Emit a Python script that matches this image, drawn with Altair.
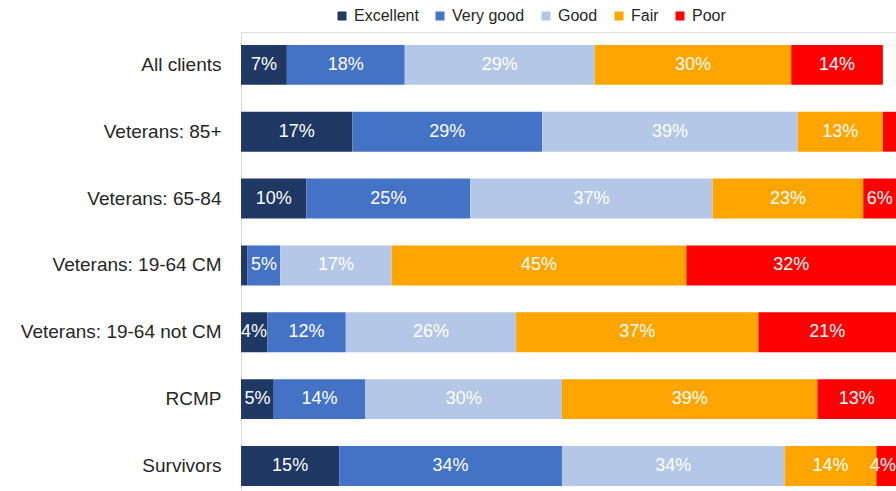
import altair as alt
import pandas as pd

# Self-rated health by client group (percent of respondents)
groups = [
    "All clients",
    "Veterans: 85+",
    "Veterans: 65-84",
    "Veterans: 19-64 CM",
    "Veterans: 19-64 not CM",
    "RCMP",
    "Survivors",
]
ratings = ["Excellent", "Very good", "Good", "Fair", "Poor"]
colors = ["#203864", "#4472C4", "#B4C7E7", "#FFA500", "#FF0000"]

excellent = [7, 17, 10, 1, 4, 5, 15]
very_good = [18, 29, 25, 5, 12, 14, 34]
good = [29, 39, 37, 17, 26, 30, 34]
fair = [30, 13, 23, 45, 37, 39, 14]
poor = [14, 2, 6, 32, 21, 13, 4]

series = [excellent, very_good, good, fair, poor]
rows = []
for r_idx, (rating, vals) in enumerate(zip(ratings, series)):
    for g, v in zip(groups, vals):
        rows.append({"group": g, "rating": rating, "order": r_idx, "value": v})
df = pd.DataFrame(rows)

FONT = "Liberation Sans"
X_MAX = 100

base = alt.Chart(df).transform_stack(
    stack="value",
    groupby=["group"],
    as_=["x0", "x1"],
    sort=[alt.SortField("order", order="ascending")],
).transform_calculate(
    # labels sit in the middle of the visible part of each segment,
    # kept far enough from the right edge to stay readable
    mid=f"min((datum.x0 + min(datum.x1, {X_MAX})) / 2, {X_MAX} - 2)",
    label="datum.value + '%'",
)

y_enc = alt.Y(
    "group:N",
    sort=groups,
    title=None,
    scale=alt.Scale(paddingInner=0.403, paddingOuter=0.134, align=0.72),
    axis=alt.Axis(
        domainColor="#D9D9D9",
        domainWidth=1,
        ticks=False,
        labelPadding=20,
        labelFontSize=19,
        labelFont=FONT,
        labelColor="#262626",
        labelLimit=400,
    ),
)

x_scale = alt.Scale(domain=[0, X_MAX], nice=False, zero=True)

bars = base.mark_bar(clip=True).encode(
    x=alt.X("x0:Q", scale=x_scale, axis=None),
    x2="x1:Q",
    y=y_enc,
    color=alt.Color(
        "rating:N",
        scale=alt.Scale(domain=ratings, range=colors),
        sort=ratings,
        title=None,
        legend=alt.Legend(
            orient="none",
            direction="horizontal",
            legendX=93,
            legendY=-24,
            symbolType="square",
            symbolSize=81,
            symbolStrokeWidth=0,
            labelFont=FONT,
            labelFontSize=16,
            labelColor="#262626",
            labelOffset=4,
            columnPadding=13,
        ),
    ),
)

texts = base.transform_filter("datum.value >= 3").mark_text(
    color="white", fontSize=18, font=FONT
).encode(
    x=alt.X("mid:Q", scale=x_scale, axis=None),
    y=alt.Y("group:N", sort=groups),
    text="label:N",
)

chart = (
    alt.layer(bars, texts)
    .properties(
        width=655,
        height=459,
        autosize=alt.AutoSizeParams(type="none"),
        padding={"left": 241, "top": 32, "right": 0, "bottom": 0},
    )
    .configure_view(stroke=None)
    .configure(background="white")
)

chart.save("out.html", embed_options={"renderer": "svg", "actions": False})
